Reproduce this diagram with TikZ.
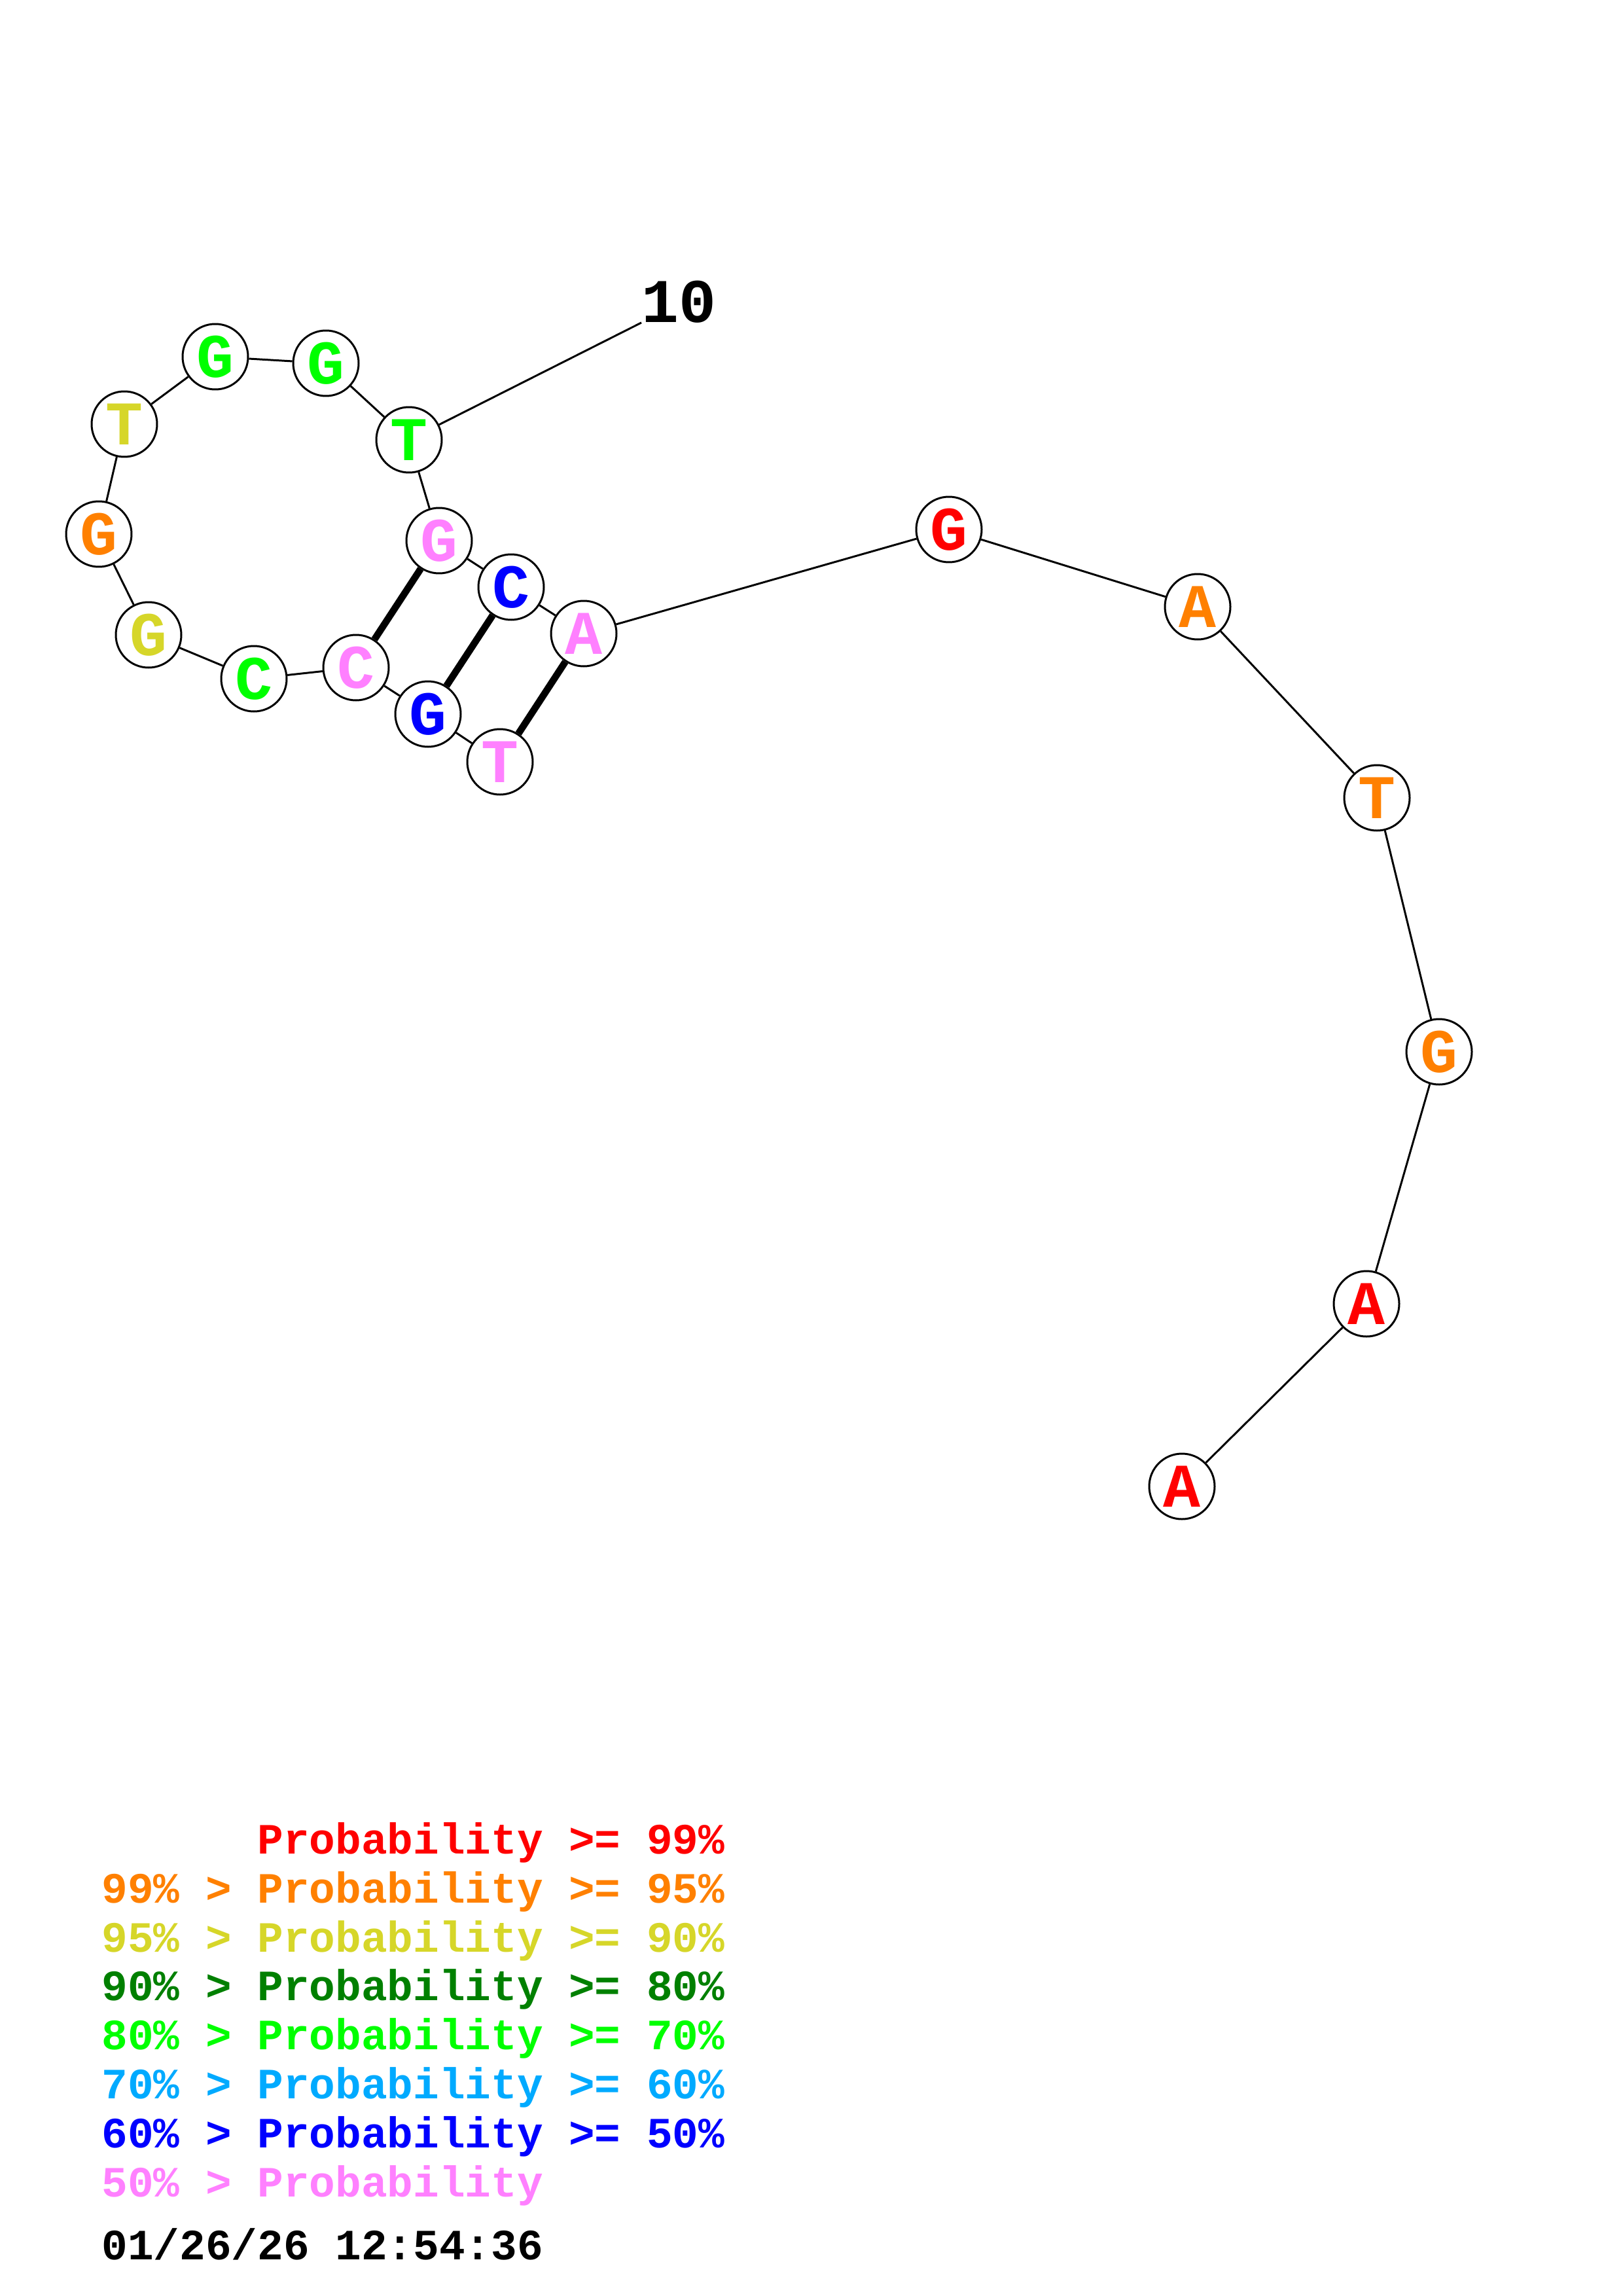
\documentclass[tikz,border=0pt]{standalone}
\usepackage{fontspec}
\setmonofont{Liberation Mono}
\definecolor{pr99}{RGB}{255,0,0}
\definecolor{pr95}{RGB}{255,128,0}
\definecolor{pr90}{RGB}{214,214,41}
\definecolor{pr80}{RGB}{0,128,0}
\definecolor{pr70}{RGB}{0,255,0}
\definecolor{pr60}{RGB}{0,170,255}
\definecolor{pr50}{RGB}{0,0,255}
\definecolor{prlow}{RGB}{255,128,255}
\begin{document}
\begin{tikzpicture}[
    nuc/.style={circle, draw, line width=0.85pt, fill=white, minimum size=1cm, inner sep=0pt, font=\ttfamily\bfseries\fontsize{27}{27}\selectfont},
    bond/.style={line width=0.85pt},
    pair/.style={line width=3pt},
    legend/.style={anchor=base west, inner sep=0pt, font=\ttfamily\bfseries\fontsize{18.8}{20}\selectfont}
]
\useasboundingbox (0,0) rectangle (24.79,-35.08);

% Nucleotides
\node[nuc, text=pr99] (b1) at (18.06,-22.71) {A};
\node[nuc, text=pr99] (b2) at (20.88,-19.92) {A};
\node[nuc, text=pr95] (b3) at (21.99,-16.07) {G};
\node[nuc, text=pr95] (b4) at (21.04,-12.19) {T};
\node[nuc, text=pr95] (b5) at (18.30,-9.27) {A};
\node[nuc, text=pr99] (b6) at (14.50,-8.09) {G};
\node[nuc, text=prlow] (b7) at (8.92,-9.68) {A};
\node[nuc, text=pr50] (b8) at (7.81,-8.97) {C};
\node[nuc, text=prlow] (b9) at (6.71,-8.26) {G};
\node[nuc, text=pr70] (b10) at (6.25,-6.72) {T};
\node[nuc, text=pr70] (b11) at (4.98,-5.55) {G};
\node[nuc, text=pr70] (b12) at (3.29,-5.45) {G};
\node[nuc, text=pr90] (b13) at (1.90,-6.48) {T};
\node[nuc, text=pr95] (b14) at (1.51,-8.16) {G};
\node[nuc, text=pr90] (b15) at (2.27,-9.70) {G};
\node[nuc, text=pr70] (b16) at (3.88,-10.37) {C};
\node[nuc, text=prlow] (b17) at (5.44,-10.20) {C};
\node[nuc, text=pr50] (b18) at (6.54,-10.91) {G};
\node[nuc, text=prlow] (b19) at (7.64,-11.64) {T};

% Index label
\node[anchor=base west, inner sep=0pt, font=\ttfamily\bfseries\fontsize{27}{27}\selectfont] (lab10) at (9.80,-4.93) {10};

% Backbone
\draw[bond] (b1) -- (b2);
\draw[bond] (b2) -- (b3);
\draw[bond] (b3) -- (b4);
\draw[bond] (b4) -- (b5);
\draw[bond] (b5) -- (b6);
\draw[bond] (b6) -- (b7);
\draw[bond] (b7) -- (b8);
\draw[bond] (b8) -- (b9);
\draw[bond] (b9) -- (b10);
\draw[bond] (b10) -- (b11);
\draw[bond] (b11) -- (b12);
\draw[bond] (b12) -- (b13);
\draw[bond] (b13) -- (b14);
\draw[bond] (b14) -- (b15);
\draw[bond] (b15) -- (b16);
\draw[bond] (b16) -- (b17);
\draw[bond] (b17) -- (b18);
\draw[bond] (b18) -- (b19);
\draw[bond] (b10) -- (lab10.base west);

% Base pairs
\draw[pair] (b9) -- (b17);
\draw[pair] (b8) -- (b18);
\draw[pair] (b7) -- (b19);

% Legend
\node[legend, text=pr99] (leg1) at (1.55,-28.32) {\phantom{99\% > }Probability >= 99\%};
\node[legend, text=pr95] (leg2) at (1.55,-29.07) {99\% > Probability >= 95\%};
\node[legend, text=pr90] (leg3) at (1.55,-29.82) {95\% > Probability >= 90\%};
\node[legend, text=pr80] (leg4) at (1.55,-30.56) {90\% > Probability >= 80\%};
\node[legend, text=pr70] (leg5) at (1.55,-31.31) {80\% > Probability >= 70\%};
\node[legend, text=pr60] (leg6) at (1.55,-32.06) {70\% > Probability >= 60\%};
\node[legend, text=pr50] (leg7) at (1.55,-32.81) {60\% > Probability >= 50\%};
\node[legend, text=prlow] (leg8) at (1.55,-33.56) {50\% > Probability};
\node[legend] (stamp) at (1.55,-34.52) {01/26/26 12:54:36};

\end{tikzpicture}
\end{document}
